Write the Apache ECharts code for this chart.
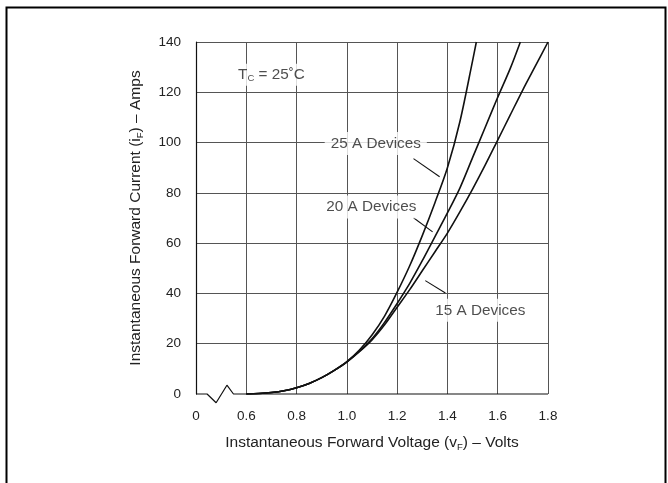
<!DOCTYPE html>
<html>
<head>
<meta charset="utf-8">
<script src="https://cdn.jsdelivr.net/npm/echarts@6/dist/echarts.min.js"></script>
<style>
html,body{margin:0;padding:0;background:#fff;}
#chart{width:668px;height:483px;}
</style>
</head>
<body>
<div id="chart"></div>
<script>
// ---- data ----
// x axis is broken: the "0" label sits where 0.4 V would be
var xTicks = [0.4, 0.6, 0.8, 1.0, 1.2, 1.4, 1.6, 1.8];
var xTickLabels = ['0', '0.6', '0.8', '1.0', '1.2', '1.4', '1.6', '1.8'];
var yTicks = [0, 20, 40, 60, 80, 100, 120, 140];

var v25 = [0.60, 0.65, 0.70, 0.75, 0.80, 0.85, 0.90, 0.95, 1.00, 1.05, 1.10, 1.15, 1.20, 1.25, 1.30, 1.35, 1.40, 1.45, 1.50, 1.515];
var i25 = [0, 0.2, 0.6, 1.3, 2.5, 4.2, 6.5, 9.4, 12.9, 17.5, 23.5, 31, 40.5, 51, 63, 76, 90, 108.5, 132.5, 140];

var v20 = [0.60, 0.65, 0.70, 0.75, 0.80, 0.85, 0.90, 0.95, 1.00, 1.05, 1.10, 1.15, 1.20, 1.25, 1.30, 1.35, 1.40, 1.45, 1.50, 1.55, 1.60, 1.65, 1.69];
var i20 = [0, 0.2, 0.6, 1.3, 2.5, 4.2, 6.5, 9.4, 12.8, 17, 22, 28.5, 36, 44, 53, 62.5, 72, 82, 94, 106, 118, 129.5, 140];

var v15 = [0.60, 0.65, 0.70, 0.75, 0.80, 0.85, 0.90, 0.95, 1.00, 1.05, 1.10, 1.15, 1.20, 1.25, 1.30, 1.35, 1.40, 1.45, 1.50, 1.55, 1.60, 1.65, 1.70, 1.75, 1.80];
var i15 = [0, 0.2, 0.6, 1.3, 2.5, 4.2, 6.5, 9.4, 12.7, 16.8, 21.5, 27.5, 34.5, 41.5, 49, 56.5, 64, 72.5, 81.5, 91, 101, 111, 121, 130.5, 140];

// axis break zig-zag along the x baseline (data units)
var breakX = [0.4, 0.444, 0.48, 0.523, 0.549, 1.8];
var breakY = [0, 0, -3.5, 3.5, 0, 0];

// annotation labels
var labelTexts = ['25 A Devices', '20 A Devices', '15 A Devices'];
var labelX = [1.115, 1.097, 1.531];
var labelY = [99.6, 74.4, 33.3];
// leader lines [x0, y0, x1, y1]
var leader25 = [1.265, 93.6, 1.369, 86.4];
var leader20 = [1.265, 70.1, 1.341, 64.5];
var leader15 = [1.312, 45.1, 1.392, 40.2];
var tcPos = [0.70, 127];

function pairs(xs, ys) { return xs.map(function (x, k) { return [x, ys[k]]; }); }

var FONT = '"Liberation Sans", Arial, Helvetica, sans-serif';
var TXT = '#222';

var chart = echarts.init(document.getElementById('chart'), null, { renderer: 'canvas' });

function curve(name, xs, ys) {
  return {
    name: name, type: 'line', data: pairs(xs, ys), smooth: 0.3, symbol: 'none',
    lineStyle: { color: '#111', width: 1.6 }, z: 5, silent: true
  };
}
function leader(seg) {
  return {
    type: 'line', data: [[seg[0], seg[1]], [seg[2], seg[3]]], symbol: 'none',
    lineStyle: { color: '#111', width: 1.1 }, z: 4, silent: true
  };
}

var labelData = labelTexts.map(function (t, k) { return { value: [labelX[k], labelY[k]], name: t }; });

var option = {
  backgroundColor: '#fff',
  animation: false,
  graphic: [{
    type: 'rect', left: 4, top: 5, z: 100,
    shape: { width: 659, height: 490 },
    style: { fill: 'none', stroke: '#000', lineWidth: 2 }
  }],
  grid: { left: 196, top: 42, width: 352, height: 352, containLabel: false },
  xAxis: {
    type: 'value', min: 0.4, max: 1.8, interval: 0.2,
    axisLine: { show: false },
    axisTick: { show: false },
    axisLabel: {
      margin: 15, color: TXT, fontSize: 13.5, fontFamily: FONT,
      formatter: function (v) {
        var k = xTicks.findIndex(function (t) { return Math.abs(t - v) < 1e-6; });
        return k >= 0 ? xTickLabels[k] : '';
      }
    },
    splitLine: { show: true, showMinLine: false, lineStyle: { color: '#555', width: 1 } },
    name: '{a|Instantaneous Forward Voltage (v}{s|F}{a|) – Volts}',
    nameLocation: 'middle', nameGap: 40,
    nameTextStyle: {
      color: TXT, fontFamily: FONT, fontSize: 15.5,
      rich: {
        a: { fontSize: 15.5, fontFamily: FONT, color: TXT, lineHeight: 18 },
        s: { fontSize: 9.5, fontFamily: FONT, color: TXT, verticalAlign: 'bottom', lineHeight: 12, padding: [6, 0, 0, 0] }
      }
    }
  },
  yAxis: {
    type: 'value', min: 0, max: 140, interval: 20,
    axisLine: { show: true, lineStyle: { color: '#111', width: 1.2 } },
    axisTick: { show: false },
    axisLabel: { margin: 15, color: TXT, fontSize: 13.5, fontFamily: FONT },
    splitLine: { show: true, showMinLine: false, lineStyle: { color: '#555', width: 1 } },
    name: '{a|Instantaneous Forward Current (i}{s|F}{a|) – Amps}',
    nameLocation: 'middle', nameGap: 51,
    nameTextStyle: {
      color: TXT, fontFamily: FONT, fontSize: 15.5,
      rich: {
        a: { fontSize: 15.5, fontFamily: FONT, color: TXT, lineHeight: 18 },
        s: { fontSize: 9.5, fontFamily: FONT, color: TXT, verticalAlign: 'bottom', lineHeight: 12, padding: [6, 0, 0, 0] }
      }
    }
  },
  series: [
    {
      type: 'line', data: pairs(breakX, breakY), symbol: 'none', clip: false,
      lineStyle: { color: '#111', width: 1.2 }, z: 3, silent: true
    },
    curve('25 A', v25, i25),
    curve('20 A', v20, i20),
    curve('15 A', v15, i15),
    leader(leader25), leader(leader20), leader(leader15),
    {
      type: 'scatter', data: labelData, symbolSize: 0, z: 6, silent: true,
      label: {
        show: true, position: 'inside', formatter: function (p) { return p.name; },
        color: TXT, fontSize: 15.3, fontFamily: FONT,
        backgroundColor: '#fff', padding: [4, 6]
      }
    },
    {
      type: 'scatter', data: [tcPos], symbolSize: 0, z: 6, silent: true,
      label: {
        show: true, position: 'inside',
        formatter: '{a|T}{s|C}{a| = 25˚C}',
        backgroundColor: '#fff', padding: [2, 3],
        rich: {
          a: { fontSize: 15.3, fontFamily: FONT, color: TXT, lineHeight: 18 },
          s: { fontSize: 9.5, fontFamily: FONT, color: TXT, verticalAlign: 'bottom', lineHeight: 12, padding: [7, 0, 0, 0] }
        }
      }
    }
  ]
};
chart.setOption(option);
</script>
</body>
</html>
